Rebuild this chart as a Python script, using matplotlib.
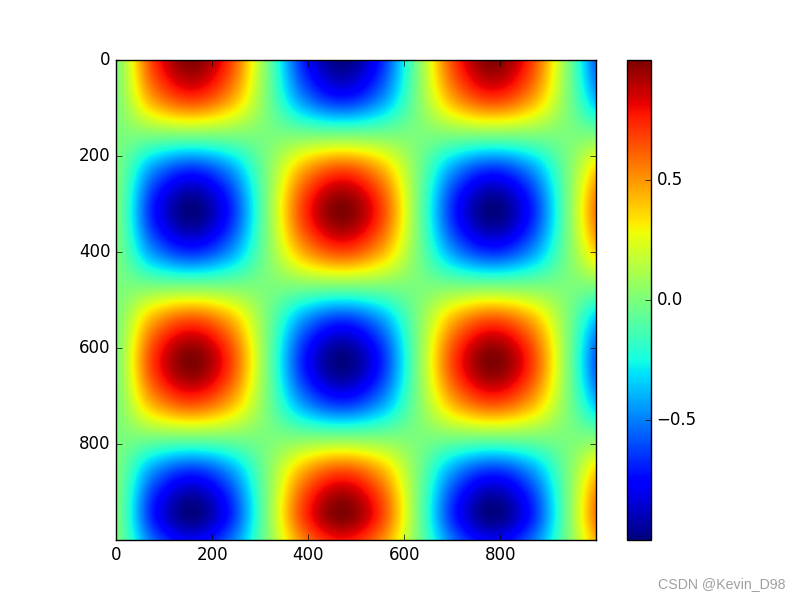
import matplotlib
matplotlib.use('Agg')
import matplotlib.pyplot as plt
import numpy as np

# values, one sample every 78.5 px in both directions
row_a = [0, 0.71, 1.0, 0.71, 0, -0.71, -1.0, -0.71, 0, 0.71, 1.0, 0.71, 0, -0.71]
row_b = [0, 0.5, 0.71, 0.5, 0, -0.5, -0.71, -0.5, 0, 0.5, 0.71, 0.5, 0, -0.5]
row_c = [0, 0, 0, 0, 0, 0, 0, 0, 0, 0, 0, 0, 0, 0]
row_d = [0, -0.5, -0.71, -0.5, 0, 0.5, 0.71, 0.5, 0, -0.5, -0.71, -0.5, 0, 0.5]
row_e = [0, -0.71, -1.0, -0.71, 0, 0.71, 1.0, 0.71, 0, -0.71, -1.0, -0.71, 0, 0.71]
grid = [row_a, row_b, row_c, row_d, row_e, row_d, row_c,
        row_b, row_a, row_b, row_c, row_d, row_e, row_d]
step = 78.5
x_ticks = [0, 200, 400, 600, 800]
y_ticks = [0, 200, 400, 600, 800]
cbar_ticks = [-0.5, 0.0, 0.5]

plt.style.use('classic')
fig = plt.figure(figsize=(8, 6), dpi=100, facecolor='white')
ax = fig.add_axes([116/800, 60/600, 480/800, 480/600])

data = np.array(grid)
n_rows, n_cols = data.shape
# catrom passes through the samples, so the peaks keep their full height
im = ax.imshow(data, cmap='jet', vmin=-1, vmax=1, interpolation='catrom',
               extent=[-step/2, (n_cols - 0.5)*step, (n_rows - 0.5)*step, -step/2])
ax.set_xlim(0, 999)
ax.set_ylim(999, 0)
ax.set_xticks(x_ticks)
ax.set_yticks(y_ticks)

cax = fig.add_axes([627/800, 60/600, 24/800, 480/600])
cbar = fig.colorbar(im, cax=cax, ticks=cbar_ticks)

fig.text(785/800, 1 - 584/600, 'CSDN @Kevin_D98', ha='right', va='center',
         fontsize=10.2, color='#a0a0a0', family=['Liberation Sans', 'DejaVu Sans'])

plt.savefig('out.png', dpi=100)
